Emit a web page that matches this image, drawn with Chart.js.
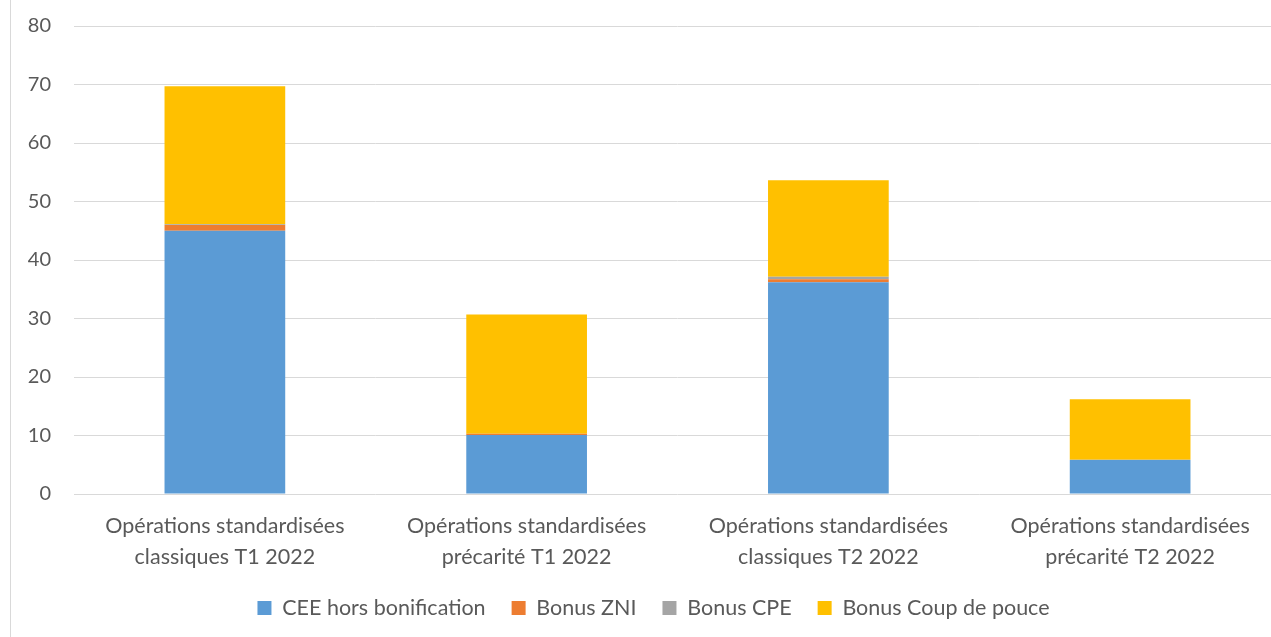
<!DOCTYPE html>
<html><head><meta charset="utf-8">
<script src="https://cdn.jsdelivr.net/npm/chart.js@4"></script>
<style>
html,body{margin:0;padding:0;background:#fff;overflow:hidden;width:1271px;height:637px;}
#wrap{position:absolute;left:0;top:0;width:1300px;height:637px;}
#border{position:absolute;left:10px;top:0;width:1px;height:637px;background:#d9d9d9;}
</style></head>
<body>
<div id="wrap"><canvas id="c" width="1300" height="637"></canvas></div>
<div id="border"></div>
<script>
const categories = [
  ["Opérations standardisées","classiques T1 2022"],
  ["Opérations standardisées","précarité T1 2022"],
  ["Opérations standardisées","classiques T2 2022"],
  ["Opérations standardisées","précarité T2 2022"]
];
const seriesNames = ["CEE hors bonification","Bonus ZNI","Bonus CPE","Bonus Coup de pouce"];
const ceeHorsBonification = [45.0, 10.1, 36.2, 5.8];
const bonusZNI = [1.0, 0.2, 0.5, 0.0];
const bonusCPE = [0.1, 0.0, 0.45, 0.05];
const bonusCoupDePouce = [23.6, 20.4, 16.5, 10.35];
const yTicks = [0,10,20,30,40,50,60,70,80];

const colors = ["#5B9BD5","#ED7D31","#A5A5A5","#FFC000"];
const FONT = "Lato";
const TXT = "#595959";

new Chart(document.getElementById('c'), {
  type: 'bar',
  data: {
    labels: categories,
    datasets: [ceeHorsBonification, bonusZNI, bonusCPE, bonusCoupDePouce].map((d,i)=>({
      label: seriesNames[i], data: d, backgroundColor: colors[i],
      borderWidth: 0, barPercentage: 0.4, categoryPercentage: 1.0
    }))
  },
  options: {
    responsive: false, animation: false,
    layout: { padding: { left: 26, right: 19, top: 26, bottom: 8.25 } },
    plugins: {
      legend: {
        position: 'bottom',
        labels: { font: { family: FONT, size: 21.5 }, color: TXT, boxWidth: 14, boxHeight: 14, padding: 26 }
      },
      tooltip: { enabled: false }
    },
    scales: {
      x: {
        stacked: true,
        grid: { display: false, drawTicks: false },
        border: { display: false },
        ticks: { font: { family: FONT, size: 21.5, lineHeight: 1.45 }, color: TXT, padding: 16.5, maxRotation: 0 },
        afterFit: s => { s.height = 77.25; s.paddingLeft = 0; s.paddingRight = 0; }
      },
      y: {
        stacked: true, min: 0, max: 80,
        afterBuildTicks: s => { s.ticks = yTicks.map(v=>({value:v})); },
        grid: { color: "#d9d9d9", lineWidth: 1, drawTicks: false },
        border: { display: false },
        ticks: { font: { family: FONT, size: 20 }, color: TXT, padding: 23 },
        afterFit: s => { s.width = 48; s.paddingTop = 0; s.paddingBottom = 0; }
      }
    }
  }
});
</script>
</body></html>
